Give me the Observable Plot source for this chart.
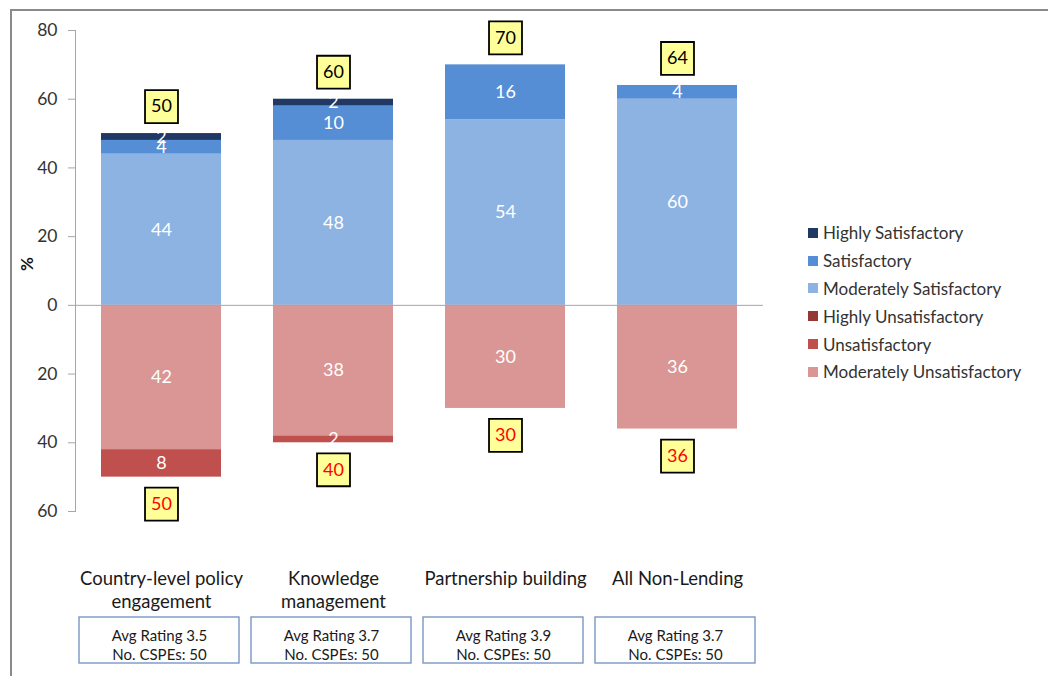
<!DOCTYPE html>
<html>
<head>
<meta charset="utf-8">
<script src="https://cdn.jsdelivr.net/npm/d3@7"></script>
<script src="https://cdn.jsdelivr.net/npm/@observablehq/plot@0.6"></script>
<style>
  html, body { margin: 0; padding: 0; background: #fff; overflow: hidden; }
  #wrap { position: relative; width: 1048px; height: 676px; font-family: Lato, "Liberation Sans", sans-serif; }
  #border { position: absolute; left: 10px; top: 9px; width: 1100px; height: 720px; border: 2px solid #8a8a8a; box-sizing: border-box; }
  #chart { position: absolute; left: 0; top: 0; }
  #legend { position: absolute; left: 808px; top: 219px; font-size: 17px; color: #333; }
  .item { display: flex; align-items: center; height: 27.8px; }
  .sw { width: 10px; height: 10px; margin-right: 5px; }
</style>
</head>
<body>
<div id="wrap">
  <div id="border"></div>
  <div id="chart"></div>
  <div id="legend"></div>
</div>
<script>
const categories = ["Country-level policy\nengagement", "Knowledge\nmanagement", "Partnership building", "All Non-Lending"];
const highlySatisfactory = [2, 2, 0, 0];
const satisfactory = [4, 10, 16, 4];
const moderatelySatisfactory = [44, 48, 54, 60];
const highlyUnsatisfactory = [0, 0, 0, 0];
const unsatisfactory = [8, 2, 0, 0];
const moderatelyUnsatisfactory = [42, 38, 30, 36];
const avgRating = ["3.5", "3.7", "3.9", "3.7"];
const numCSPEs = [50, 50, 50, 50];
const yTicks = [-60, -40, -20, 0, 20, 40, 60, 80];
const yDomain = [-60, 80];

const seriesNames = ["Highly Satisfactory", "Satisfactory", "Moderately Satisfactory", "Highly Unsatisfactory", "Unsatisfactory", "Moderately Unsatisfactory"];
const seriesColors = ["#1f3864", "#558ed5", "#8db3e2", "#953735", "#c0504d", "#d99694"];

// stacking order (from zero outward)
const posStack = [["Moderately Satisfactory", moderatelySatisfactory], ["Satisfactory", satisfactory], ["Highly Satisfactory", highlySatisfactory]];
const negStack = [["Moderately Unsatisfactory", moderatelyUnsatisfactory], ["Unsatisfactory", unsatisfactory], ["Highly Unsatisfactory", highlyUnsatisfactory]];

const rows = [];
const totals = [];
categories.forEach((cat, i) => {
  let p = 0;
  for (const [name, vals] of posStack) {
    const v = vals[i];
    rows.push({cat, series: name, value: v, y1: p, y2: p + v, mid: p + v / 2});
    p += v;
  }
  let n = 0;
  for (const [name, vals] of negStack) {
    const v = vals[i];
    rows.push({cat, series: name, value: v, y1: n, y2: n - v, mid: n - v / 2});
    n -= v;
  }
  totals.push({cat, pos: p, neg: n, rating: avgRating[i], cspe: numCSPEs[i]});
});

const font = "Lato, 'Liberation Sans', sans-serif";

const chart = Plot.plot({
  width: 1048,
  height: 676,
  marginLeft: 75,
  marginRight: 285,
  marginTop: 30,
  marginBottom: 165,
  style: {fontFamily: font, fontSize: "17px", color: "#333", background: "transparent", overflow: "visible"},
  x: {type: "band", domain: categories, paddingInner: 0.3, paddingOuter: 0.15, axis: null},
  y: {domain: yDomain, axis: null},
  color: {domain: seriesNames, range: seriesColors},
  marks: [
    Plot.frame({anchor: "left", stroke: "#a6a6a6"}),
    Plot.axisY({ticks: yTicks, tickFormat: d => Math.abs(d), tickSize: 7, tickPadding: 11, stroke: "#a6a6a6", fill: "#333", fontSize: 17.5, label: null}),
    Plot.barY(rows, {x: "cat", y1: "y1", y2: "y2", fill: "series"}),
    Plot.ruleY([0], {stroke: "#a6a6a6"}),
    Plot.text(rows.filter(d => d.value > 0), {x: "cat", y: "mid", text: d => String(d.value), fill: "white", fontSize: 18}),
    Plot.dot(totals, {x: "cat", y: "pos", dy: -27, symbol: "square", r: 18.6, fill: "#ffff99", stroke: "black", strokeWidth: 1.8}),
    Plot.text(totals, {x: "cat", y: "pos", dy: -27, text: d => String(d.pos), fill: "black", fontSize: 18}),
    Plot.dot(totals, {x: "cat", y: "neg", dy: 27, symbol: "square", r: 18.6, fill: "#ffff99", stroke: "black", strokeWidth: 1.8}),
    Plot.text(totals, {x: "cat", y: "neg", dy: 27, text: d => String(-d.neg), fill: "#ff0000", fontSize: 18}),
    Plot.text(["%"], {frameAnchor: "left", dx: -48, rotate: -90, text: d => d, fontWeight: "bold", fontSize: 17, fill: "#111"}),
    Plot.text(totals, {x: "cat", text: "cat", frameAnchor: "bottom", lineAnchor: "top", dy: 57, lineHeight: 1.24, fontSize: 18.5, fill: "#1a1a1a"}),
    Plot.barY(totals, {x: "cat", y1: yDomain[0], y2: yDomain[0], insetTop: 106, insetBottom: -152, insetLeft: -22, insetRight: -18, fill: "white", stroke: "#6f8fc0", strokeWidth: 1.3}),
    Plot.text(totals, {x: "cat", text: d => `Avg Rating ${d.rating}\nNo. CSPEs: ${d.cspe}`, frameAnchor: "bottom", lineAnchor: "top", dy: 115.5, dx: -2, lineHeight: 1.27, fontSize: 15, fill: "#1a1a1a"})
  ]
});
document.getElementById("chart").appendChild(chart);

const legend = document.getElementById("legend");
seriesNames.forEach((name, i) => {
  const item = document.createElement("div");
  item.className = "item";
  const sw = document.createElement("div");
  sw.className = "sw";
  sw.style.background = seriesColors[i];
  const label = document.createElement("span");
  label.textContent = name;
  item.appendChild(sw);
  item.appendChild(label);
  legend.appendChild(item);
});
</script>
</body>
</html>
